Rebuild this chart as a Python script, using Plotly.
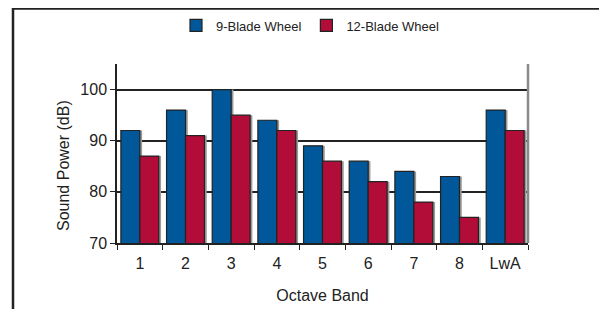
import plotly.graph_objects as go

categories = ["1", "2", "3", "4", "5", "6", "7", "8", "LwA"]
blade9 = [92, 96, 100, 94, 89, 86, 84, 83, 96]
blade12 = [87, 91, 95, 92, 86, 82, 78, 75, 92]
series_names = ["9-Blade Wheel", "12-Blade Wheel"]
colors = ["#00589B", "#B20C38"]

OFF = 8  # page body margin
W, H = 607 - OFF, 309 - OFF
L, T = 117 - OFF, 64 - OFF
pw, ph = 411, 179
R, B = W - L - pw, H - T - ph

def px_x(p):
    return (p - OFF - L) / pw

def px_y(p):
    return (T + ph - (p - OFF)) / ph

bw = 0.415
fig = go.Figure()
# drop shadows
for vals, off in [(blade9, -bw), (blade12, 0.0)]:
    fig.add_trace(go.Bar(x=categories, y=vals, width=bw, offset=off + 0.05,
                         marker=dict(color="#9a9a9a", line=dict(width=0)),
                         showlegend=False, hoverinfo="skip"))
for vals, name, col, off in [(blade9, series_names[0], colors[0], -bw),
                             (blade12, series_names[1], colors[1], 0.0)]:
    fig.add_trace(go.Bar(x=categories, y=vals, name=name, width=bw, offset=off,
                         marker=dict(color=col, line=dict(color="#222222", width=1.2))))

fig.update_layout(
    width=W, height=H, barmode="overlay",
    margin=dict(l=L, r=R, t=T, b=B, pad=0, autoexpand=False),
    paper_bgcolor="white", plot_bgcolor="white",
    font=dict(family="Liberation Sans, Arial, sans-serif", color="#222222", size=16),
    legend=dict(orientation="h", x=px_x(310), xanchor="center", y=px_y(25.5), yanchor="middle",
                font=dict(size=13), itemwidth=30, traceorder="normal", bgcolor="rgba(0,0,0,0)"),
    showlegend=True,
)
fig.update_xaxes(type="category", showline=True, linecolor="#222222", linewidth=1.5,
                 ticks="outside", tickson="boundaries", ticklen=5, tickcolor="#222222",
                 tickwidth=1.2, showgrid=False, ticklabelstandoff=5,
                 title=dict(text="Octave Band", standoff=19, font=dict(size=16)),
                 tickfont=dict(size=16))
fig.update_yaxes(range=[70, 105], tickvals=[70, 80, 90, 100], showline=True,
                 linecolor="#222222", linewidth=1.5, ticks="outside", ticklen=5,
                 tickcolor="#222222", tickwidth=1.2, showgrid=True, gridcolor="#222222",
                 gridwidth=1.5, zeroline=False, tickfont=dict(size=16))

# gray right edge of plot area
fig.add_shape(type="line", xref="paper", yref="paper", x0=1, x1=1, y0=0, y1=1,
              line=dict(color="#8a8a8a", width=2.5))
# outer frame
fig.add_shape(type="rect", xref="paper", yref="paper",
              x0=px_x(13), x1=px_x(604), y0=px_y(330), y1=px_y(8.5),
              line=dict(color="#222222", width=2.5), layer="below")
fig.add_annotation(text="Sound Power (dB)", xref="paper", yref="paper",
                   x=px_x(63), y=px_y(166), textangle=-90, showarrow=False,
                   font=dict(size=16), xanchor="center", yanchor="middle")

fig.write_html("out.html")
